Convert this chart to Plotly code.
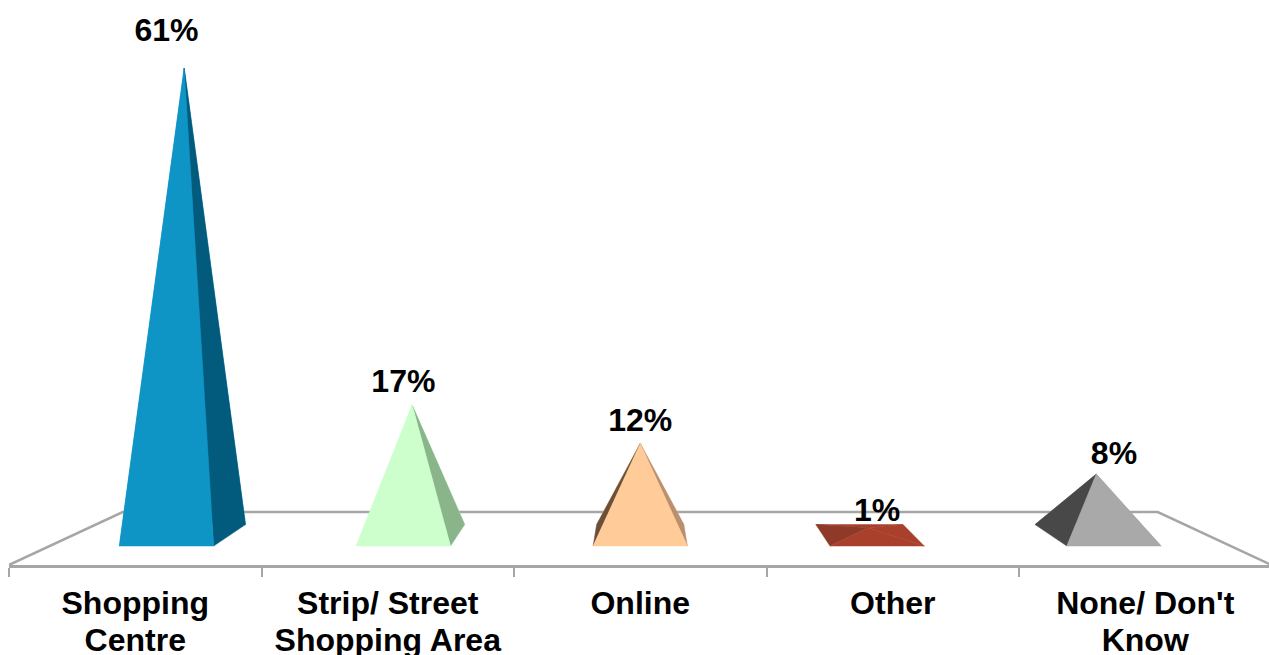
import plotly.graph_objects as go

categories_line1 = ["Shopping", "Strip/ Street", "Online", "Other", "None/ Don't"]
categories_line2 = ["Centre", "Shopping Area", "", "", "Know"]
values = [61, 17, 12, 1, 8]
labels = ["61%", "17%", "12%", "1%", "8%"]

front_colors = ["#0f94c6", "#ccffcc", "#ffcc99", "#a8402c", "#a9a9a9"]
left_colors = ["#0f94c6", "#ccffcc", "#6b5038", "#8f3a28", "#484848"]
right_colors = ["#025a7c", "#8ab58a", "#b89070", "#a8402c", "#a9a9a9"]
label_lift = [35, 21, 20, 15, 18]   # px above the apex

GREY = "#a6a6a6"
FONT = "Liberation Sans"
W, H = 1269, 655
PX_L, PX_FLOOR = 9, 565
PX_PER_CAT = 252.5
PX_PER_PCT = 7.66
Y_TOP = 535.3 / PX_PER_PCT
Y_BOTTOM = (535.3 - PX_FLOOR) / PX_PER_PCT
X_LEFT = -0.5
X_RIGHT = X_LEFT + (W - PX_L) / PX_PER_CAT
MID = (len(values) - 1) / 2

FLOOR_FRONT, FLOOR_BACK = Y_BOTTOM, 3.04
BASE_FRONT, BASE_BACK = -1.4, 1.4
HALF = 0.199
PERSP_FLOOR = 0.02604
PERSP_BASE = 0.0250


def proj(world_x, floor_y, value=0.0, persp=PERSP_BASE):
    k = 1 - (floor_y - FLOOR_FRONT) * persp
    return MID + (world_x - MID) * k, floor_y + value


def poly(points, color):
    xs = [p[0] for p in points]
    ys = [p[1] for p in points]
    return go.Scatter(x=xs + xs[:1], y=ys + ys[:1], mode="lines", fill="toself",
                      fillcolor=color, line=dict(width=0.5, color=color),
                      hoverinfo="skip", showlegend=False)


fig = go.Figure()

# floor outline
n = len(values)
floor_corners = [proj(-0.5, FLOOR_FRONT, persp=PERSP_FLOOR), proj(-0.5, FLOOR_BACK, persp=PERSP_FLOOR),
                 proj(n - 0.5, FLOOR_BACK, persp=PERSP_FLOOR), proj(n - 0.5, FLOOR_FRONT, persp=PERSP_FLOOR)]
fig.add_trace(go.Scatter(x=[p[0] for p in floor_corners], y=[p[1] for p in floor_corners],
                         mode="lines", line=dict(color=GREY, width=2.5),
                         hoverinfo="skip", showlegend=False, cliponaxis=False))

label_x, label_y = [], []
for i, v in enumerate(values):
    fl = proj(i - HALF, BASE_FRONT)
    fr = proj(i + HALF, BASE_FRONT)
    bl = proj(i - HALF, BASE_BACK)
    br = proj(i + HALF, BASE_BACK)
    apex = proj(i, 0.0, v)
    fig.add_trace(poly([bl, br, apex], front_colors[i]))
    fig.add_trace(poly([fl, bl, apex], left_colors[i]))
    fig.add_trace(poly([fr, br, apex], right_colors[i]))
    fig.add_trace(poly([fl, fr, apex], front_colors[i]))
    label_x.append((fl[0] + fr[0]) / 2)
    label_y.append(v + label_lift[i] / PX_PER_PCT)

fig.add_trace(go.Scatter(x=label_x, y=label_y, mode="text", text=labels,
                         textposition="middle center", xaxis="x2",
                         textfont=dict(family=FONT, size=32, color="#000000", weight=700),
                         hoverinfo="skip", showlegend=False, cliponaxis=False))

tick_positions = list(range(n))
boundaries = [i - 0.5 for i in range(n + 1)]
tick_font = dict(family=FONT, size=32, color="#000000", weight=700)

fig.update_layout(
    width=W, height=H, autosize=False,
    margin=dict(l=PX_L, r=0, t=0, b=H - PX_FLOOR, pad=0),
    paper_bgcolor="#ffffff", plot_bgcolor="#ffffff", showlegend=False,
    xaxis=dict(range=[X_LEFT, X_RIGHT], showgrid=False, zeroline=False, automargin=False,
               showline=True, linecolor=GREY, linewidth=2.5,
               tickmode="array", tickvals=tick_positions, ticktext=categories_line1,
               ticks="", tickfont=tick_font, ticklabelstandoff=8,
               minor=dict(tickmode="array", tickvals=boundaries, ticks="outside",
                          ticklen=9, tickwidth=1.5, tickcolor=GREY, showgrid=False)),
    xaxis2=dict(range=[X_LEFT, X_RIGHT], overlaying="x", anchor="y", side="bottom",
                showgrid=False, zeroline=False, showline=False, automargin=False,
                tickmode="array", tickvals=tick_positions, ticktext=categories_line2,
                ticks="", tickfont=tick_font, ticklabelstandoff=53),
    yaxis=dict(range=[Y_BOTTOM, Y_TOP], visible=False, showgrid=False, zeroline=False,
               automargin=False),
)

fig.write_html("out.html", config=dict(displayModeBar=False),
               post_script="document.body.style.margin='0';")
